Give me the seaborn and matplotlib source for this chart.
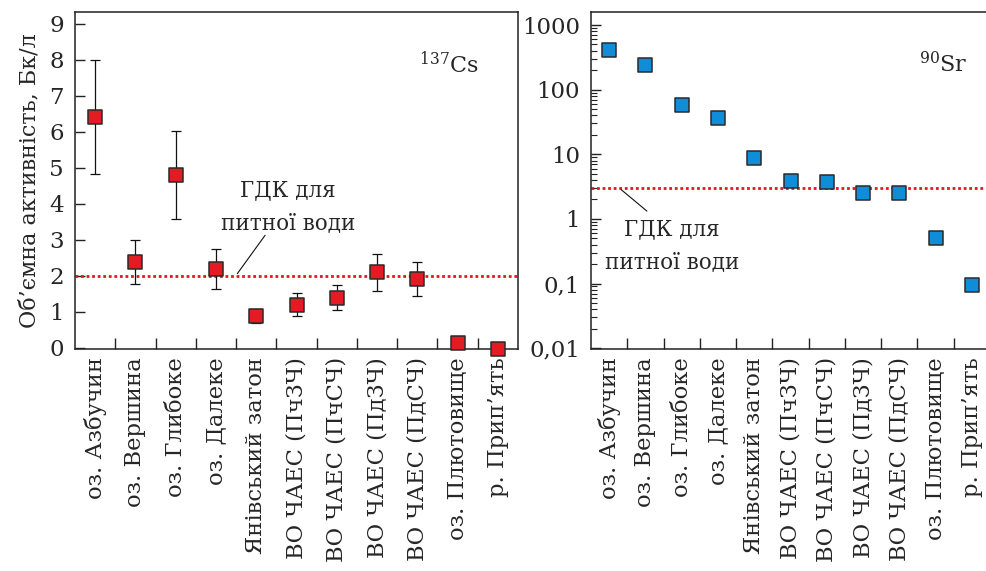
import matplotlib
matplotlib.use("Agg")
import matplotlib.pyplot as plt
import matplotlib.ticker as mticker
import seaborn as sns
import pandas as pd
import numpy as np

# ---- data ----
sites = ["оз. Азбучин", "оз. Вершина", "оз. Глибоке", "оз. Далеке",
         "Янівський затон", "ВО ЧАЕС (ПчЗЧ)", "ВО ЧАЕС (ПчСЧ)",
         "ВО ЧАЕС (ПдЗЧ)", "ВО ЧАЕС (ПдСЧ)", "оз. Плютовище", "р. Прип\u2019ять"]
cs137 = [6.42, 2.38, 4.81, 2.19, 0.89, 1.20, 1.40, 2.10, 1.91, 0.13, -0.03]
cs137_low = [4.83, 1.78, 3.59, 1.65, 0.70, 0.89, 1.05, 1.58, 1.44, np.nan, np.nan]
cs137_high = [8.00, 3.00, 6.03, 2.75, 1.07, 1.52, 1.75, 2.62, 2.38, np.nan, np.nan]
sr90 = [410, 238, 57, 36, 8.7, 3.9, 3.66, 2.56, 2.53, 0.50, 0.095]
gdk_cs = 2.0
gdk_sr = 3.0
log_ticks = [0.01, 0.1, 1, 10, 100, 1000]
log_tick_labels = ["0,01", "0,1", "1", "10", "100", "1000"]
lin_ticks = [0, 1, 2, 3, 4, 5, 6, 7, 8, 9]

df = pd.DataFrame({"site": sites, "cs": cs137, "lo": cs137_low,
                   "hi": cs137_high, "sr": sr90})

sns.set_style("ticks")
plt.rcParams["font.family"] = ["DejaVu Serif"]
plt.rcParams["mathtext.fontset"] = "dejavuserif"

RED = "#e51b23"
BLUE = "#0f8dd8"
EDGE = "#2a2a2a"
LINE_RED = "#e8141c"

fig = plt.figure(figsize=(9.86, 5.71), dpi=100)
ax1 = fig.add_axes([75 / 986, 1 - 349 / 571, 443 / 986, 337 / 571])
ax2 = fig.add_axes([591 / 986, 1 - 349 / 571, 399 / 986, 337 / 571])

pos = np.arange(len(sites))

# ---- left panel: 137Cs ----
mask = ~df["lo"].isna()
ax1.errorbar(pos[mask], df["cs"][mask],
             yerr=[df["cs"][mask] - df["lo"][mask], df["hi"][mask] - df["cs"][mask]],
             fmt="none", ecolor="#111111", elinewidth=0.9, capsize=3.5,
             capthick=0.9, zorder=2)
ax1.axhline(gdk_cs, color=LINE_RED, lw=2.0, ls=(0, (1, 1)), zorder=1)
sns.scatterplot(x=pos, y=df["cs"], marker="s", s=110, color=RED,
                edgecolor=EDGE, linewidth=1.1, ax=ax1, zorder=3, clip_on=False)
ax1.set_xlim(-0.5, len(sites) - 0.5)
ax1.set_ylim(-0.03, 9.33)
ax1.set_yticks(lin_ticks)
ax1.set_ylabel("Об\u2019ємна активність, Бк/л", fontsize=16, labelpad=6)
ax1.text(0.845, 0.845, r"$^{137}$Cs", transform=ax1.transAxes,
         fontsize=16, ha="center", va="center")
ax1.annotate("", xy=(3.49, gdk_cs), xytext=(4.26, 3.19),
             arrowprops=dict(arrowstyle="-", color="#111111", lw=0.8))
ax1.text(4.79, 4.39, "ГДК для", fontsize=15.5, ha="center", va="center")
ax1.text(4.79, 3.47, "питної води", fontsize=15.5, ha="center", va="center")

# ---- right panel: 90Sr ----
ax2.axhline(gdk_sr, color=LINE_RED, lw=2.0, ls=(0, (1, 1)), zorder=1)
sns.scatterplot(x=pos, y=df["sr"], marker="s", s=110, color=BLUE,
                edgecolor=EDGE, linewidth=1.1, ax=ax2, zorder=3)
ax2.set_yscale("log")
ax2.set_xlim(-0.5, len(sites) - 0.5)
ax2.set_ylim(0.0097, 1590)
ax2.set_yticks(log_ticks)
ax2.yaxis.set_major_formatter(mticker.FixedFormatter(log_tick_labels))
ax2.yaxis.set_minor_locator(mticker.LogLocator(base=10, subs=np.arange(2, 10)))
ax2.yaxis.set_minor_formatter(mticker.NullFormatter())
ax2.set_ylabel("")
ax2.text(0.882, 0.845, r"$^{90}$Sr", transform=ax2.transAxes,
         fontsize=16, ha="center", va="center")
ax2.annotate("", xy=(0.28, gdk_sr), xytext=(1.10, 1.24),
             arrowprops=dict(arrowstyle="-", color="#111111", lw=0.8))
ax2.text(1.74, 0.70, "ГДК для", fontsize=15.5, ha="center", va="center")
ax2.text(1.74, 0.215, "питної води", fontsize=15.5, ha="center", va="center")

for ax in (ax1, ax2):
    ax.set_xticks(pos)
    ax.set_xticklabels(sites, rotation=90, fontsize=16.3, va="top", ha="center")
    ax.set_xticks(pos[:-1] + 0.5, minor=True)
    ax.tick_params(axis="x", which="major", length=0, pad=6)
    ax.tick_params(axis="x", which="minor", direction="in", length=8,
                   width=1.0, color="#222222")
    ax.tick_params(axis="y", which="major", direction="in", length=7,
                   width=1.0, labelsize=16.5, pad=8, color="#222222")
    ax.tick_params(axis="y", which="minor", direction="in", length=4,
                   width=0.8, color="#222222")
    ax.set_xlabel("")
    for sp in ax.spines.values():
        sp.set_visible(True)
        sp.set_linewidth(1.1)
        sp.set_color("#222222")
    ax.set_facecolor("white")

fig.savefig("out.png", dpi=100, facecolor="white")
